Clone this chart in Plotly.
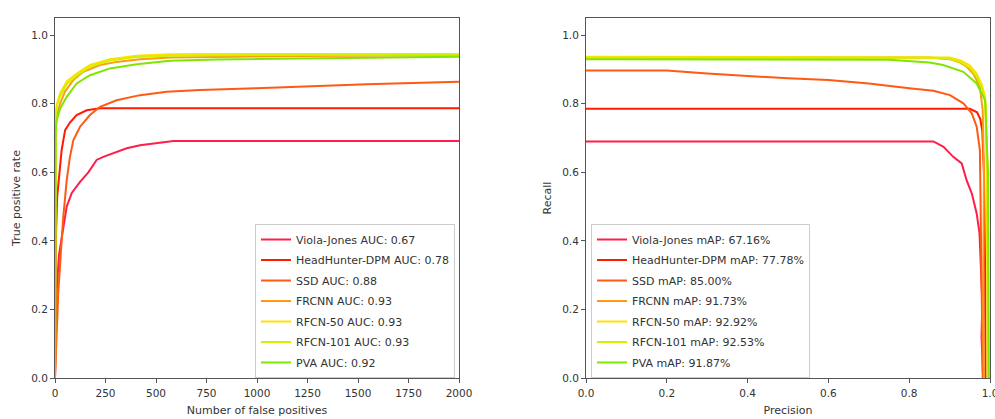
import plotly.graph_objects as go

# ---------------- data ----------------
models = ["Viola-Jones", "HeadHunter-DPM", "SSD", "FRCNN", "RFCN-50", "RFCN-101", "PVA"]
auc = ["0.67", "0.78", "0.88", "0.93", "0.93", "0.93", "0.92"]
mAP = ["67.16%", "77.78%", "85.00%", "91.73%", "92.92%", "92.53%", "91.87%"]
colors = ["#ff1e4b", "#ff1a00", "#ff5a12", "#ff9a12", "#ffe000", "#d2f000", "#80e600"]

# Left panel: true positive rate vs number of false positives
vj_fp = [0, 3, 8, 20, 41, 58, 83, 124, 165, 206, 239, 289, 355, 421, 503, 586, 2000]
vj_tpr = [0, 0.12, 0.25, 0.36, 0.44, 0.50, 0.54, 0.572, 0.60, 0.636, 0.645, 0.655, 0.67, 0.679, 0.686, 0.691, 0.691]
hh_fp = [0, 2, 5, 11, 16, 33, 50, 74, 107, 157, 223, 2000]
hh_tpr = [0, 0.25, 0.42, 0.53, 0.56, 0.665, 0.723, 0.745, 0.767, 0.781, 0.787, 0.787]
ssd_fp = [0, 8, 16, 33, 41, 58, 74, 91, 124, 173, 223, 305, 421, 553, 718, 998, 1246, 1543, 2000]
ssd_tpr = [0, 0.14, 0.247, 0.402, 0.47, 0.577, 0.645, 0.694, 0.733, 0.767, 0.791, 0.81, 0.825, 0.835, 0.84, 0.845, 0.851, 0.857, 0.864]
fr_fp = [0, 1, 3, 8, 25, 49, 91, 140, 223, 305, 421, 569, 800, 1200, 2000]
fr_tpr = [0, 0.6, 0.72, 0.762, 0.80, 0.835, 0.869, 0.893, 0.913, 0.922, 0.930, 0.935, 0.937, 0.939, 0.941]
r50_fp = [0, 1, 3, 10, 25, 58, 107, 173, 272, 404, 569, 1000, 2000]
r50_tpr = [0, 0.65, 0.772, 0.80, 0.83, 0.865, 0.888, 0.913, 0.930, 0.940, 0.944, 0.945, 0.945]
r101_fp = [0, 1, 3, 10, 25, 58, 107, 173, 272, 404, 569, 1000, 2000]
r101_tpr = [0, 0.64, 0.765, 0.795, 0.822, 0.857, 0.882, 0.908, 0.926, 0.936, 0.940, 0.942, 0.943]
pva_fp = [0, 1, 3, 8, 25, 58, 107, 173, 272, 404, 569, 800, 1200, 2000]
pva_tpr = [0, 0.6, 0.72, 0.752, 0.785, 0.82, 0.859, 0.883, 0.903, 0.915, 0.925, 0.929, 0.932, 0.937]

# Right panel: recall vs precision
vj_p = [0, 0.86, 0.885, 0.909, 0.93, 0.942, 0.955, 0.967, 0.974, 0.978, 0.981, 0.979, 0.982, 0.983]
vj_r = [0.69, 0.69, 0.674, 0.645, 0.626, 0.577, 0.538, 0.48, 0.422, 0.33, 0.22, 0.12, 0.05, 0.0]
hh_p = [0, 0.95, 0.968, 0.976, 0.981, 0.985, 0.988, 0.989]
hh_r = [0.785, 0.785, 0.775, 0.755, 0.72, 0.6, 0.3, 0.0]
ssd_p = [0, 0.2, 0.3, 0.4, 0.5, 0.6, 0.7, 0.8, 0.86, 0.901, 0.934, 0.955, 0.967, 0.975, 0.978, 0.98, 0.982]
ssd_r = [0.897, 0.897, 0.888, 0.880, 0.874, 0.869, 0.859, 0.845, 0.838, 0.825, 0.801, 0.772, 0.733, 0.665, 0.45, 0.2, 0.0]
fr_p = [0, 0.85, 0.9, 0.926, 0.942, 0.96, 0.975, 0.982, 0.985, 0.983, 0.985]
fr_r = [0.935, 0.935, 0.93, 0.92, 0.908, 0.885, 0.849, 0.78, 0.6, 0.2, 0.0]
r50_p = [0, 0.85, 0.9, 0.926, 0.95, 0.967, 0.98, 0.988, 0.992, 0.994]
r50_r = [0.937, 0.937, 0.935, 0.927, 0.912, 0.888, 0.855, 0.82, 0.6, 0.0]
r101_p = [0, 0.85, 0.9, 0.926, 0.95, 0.967, 0.98, 0.989, 0.994, 0.996]
r101_r = [0.934, 0.934, 0.931, 0.922, 0.905, 0.88, 0.845, 0.80, 0.6, 0.0]
pva_p = [0, 0.75, 0.85, 0.884, 0.934, 0.967, 0.988, 0.995, 0.997]
pva_r = [0.93, 0.928, 0.92, 0.913, 0.893, 0.859, 0.81, 0.6, 0.0]

left_x = [vj_fp, hh_fp, ssd_fp, fr_fp, r50_fp, r101_fp, pva_fp]
left_y = [vj_tpr, hh_tpr, ssd_tpr, fr_tpr, r50_tpr, r101_tpr, pva_tpr]
right_x = [vj_p, hh_p, ssd_p, fr_p, r50_p, r101_p, pva_p]
right_y = [vj_r, hh_r, ssd_r, fr_r, r50_r, r101_r, pva_r]

x_ticks_left = [0, 250, 500, 750, 1000, 1250, 1500, 1750, 2000]
x_ticks_right = [0.0, 0.2, 0.4, 0.6, 0.8, 1.0]
y_ticks = [0.0, 0.2, 0.4, 0.6, 0.8, 1.0]

# ---------------- figure ----------------
W, H = 995, 419
FONT = "DejaVu Sans"
fig = go.Figure()

for i, m in enumerate(models):
    fig.add_trace(go.Scatter(
        x=left_x[i], y=left_y[i], mode="lines", name=f"{m} AUC: {auc[i]}",
        line=dict(color=colors[i], width=2), xaxis="x", yaxis="y", legend="legend",
        legendgroup=f"l{i}"))
for i, m in enumerate(models):
    fig.add_trace(go.Scatter(
        x=right_x[i], y=right_y[i], mode="lines", name=f"{m} mAP: {mAP[i]}",
        line=dict(color=colors[i], width=2), xaxis="x2", yaxis="y2", legend="legend2",
        legendgroup=f"r{i}"))

y0, y1 = 1 - 378 / H, 1 - 18 / H
axis_common = dict(showline=True, linecolor="#555", linewidth=1, mirror=True,
                   ticks="outside", ticklen=4, tickcolor="#555", showgrid=False,
                   zeroline=False, automargin=False, ticklabeloverflow="allow",
                   tickfont=dict(family=FONT, size=10.5, color="#333"))
title_font = dict(family=FONT, size=11, color="#333")

fig.update_layout(
    width=W, height=H, margin=dict(l=0, r=0, t=0, b=0),
    paper_bgcolor="white", plot_bgcolor="white",
    font=dict(family=FONT, size=11, color="#333"),
    xaxis=dict(domain=[55 / W, 459 / W], range=[0, 2000], tickvals=x_ticks_left,
               ticktext=[str(v) for v in x_ticks_left], anchor="y", ticklabelstandoff=1,
               title=dict(text="Number of false positives", standoff=8, font=title_font),
               **axis_common),
    yaxis=dict(domain=[y0, y1], range=[0, 1.05], tickvals=y_ticks,
               ticktext=[f"{v:.1f}" for v in y_ticks], anchor="x",
               title=dict(text="True positive rate", standoff=8, font=title_font),
               **axis_common),
    xaxis2=dict(domain=[586 / W, 990 / W], range=[0, 1.0], tickvals=x_ticks_right,
                ticktext=[f"{v:.1f}" for v in x_ticks_right], anchor="y2", ticklabelstandoff=1,
                title=dict(text="Precision", standoff=8, font=title_font),
                **axis_common),
    yaxis2=dict(domain=[y0, y1], range=[0, 1.05], tickvals=y_ticks,
                ticktext=[f"{v:.1f}" for v in y_ticks], anchor="x2",
                title=dict(text="Recall", standoff=8, font=title_font),
                **axis_common),
    legend=dict(x=255 / W, y=1 - 224 / H, xanchor="left", yanchor="top",
                bgcolor="white", bordercolor="#ccc", borderwidth=1,
                font=dict(family=FONT, size=11, color="#333"), itemwidth=30,
                tracegroupgap=1.5),
    legend2=dict(x=591 / W, y=1 - 224 / H, xanchor="left", yanchor="top",
                 bgcolor="white", bordercolor="#ccc", borderwidth=1,
                 font=dict(family=FONT, size=11, color="#333"), itemwidth=30,
                 tracegroupgap=1.5),
)

fig.write_html("out.html", config={"displayModeBar": False},
               post_script="document.body.style.margin='0';")
